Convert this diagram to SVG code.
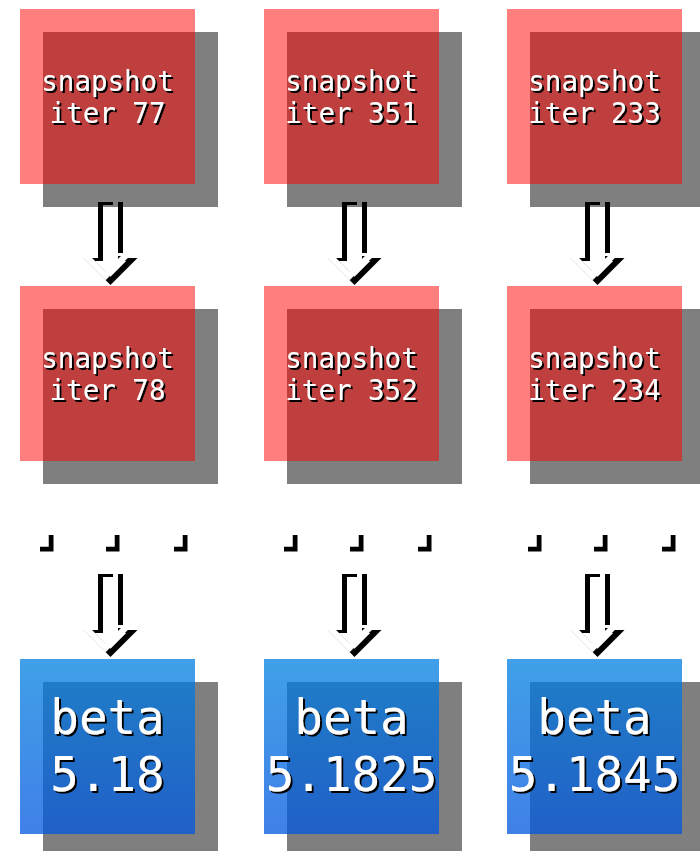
<svg xmlns="http://www.w3.org/2000/svg" width="700" height="851" viewBox="0 0 700 851">
<style>
.shadow{fill:#000;fill-opacity:0.5}
.red{fill:#ff0000;fill-opacity:0.5}
.blue{fill:url(#bg);fill-opacity:0.75}
.t{font-family:"DejaVu Sans Mono","Liberation Mono",monospace;fill:#fff;text-anchor:middle;filter:url(#ts)}
.s{font-size:27.5px}
.b{font-size:47.5px;filter:url(#tb)}
.arrow{fill:#fff;fill-rule:evenodd;filter:url(#as)}
.dot{fill:#fff;filter:url(#as)}
</style>
<defs>
<linearGradient id="bg" x1="0" y1="0" x2="0" y2="1">
<stop offset="0" stop-color="#0080e0"/>
<stop offset="1" stop-color="#0055e0"/>
</linearGradient>
<filter id="ts" x="-10%" y="-20%" width="130%" height="150%">
<feOffset in="SourceAlpha" dx="1.5" dy="1.5" result="o"/>
<feMerge><feMergeNode in="o"/><feMergeNode in="SourceGraphic"/></feMerge>
</filter>
<filter id="tb" x="-10%" y="-20%" width="130%" height="150%">
<feOffset in="SourceAlpha" dx="2" dy="2" result="o"/>
<feMerge><feMergeNode in="o"/><feMergeNode in="SourceGraphic"/></feMerge>
</filter>
<filter id="as" x="-30%" y="-30%" width="180%" height="180%">
<feOffset in="SourceAlpha" dx="5" dy="5" result="o"/>
<feMerge><feMergeNode in="o"/><feMergeNode in="SourceGraphic"/></feMerge>
</filter>
<path id="arr" d="M93,197 H118 V253 H132.5 L105.5,280 L78.5,253 H93 Z M98,200 H113 V256 H121.2 L105.5,271.7 L89.8,256 H98 Z"/>
</defs>
<g id="connectors">
<use href="#arr" class="arrow"/>
<use href="#arr" class="arrow" transform="translate(244,0)"/>
<use href="#arr" class="arrow" transform="translate(487,0)"/>
<use href="#arr" class="arrow" transform="translate(0,372)"/>
<use href="#arr" class="arrow" transform="translate(244,372)"/>
<use href="#arr" class="arrow" transform="translate(487,372)"/>
</g>
<g id="ellipsis">
<rect class="dot" x="35" y="530" width="13.5" height="16.5"/>
<rect class="dot" x="101" y="530" width="13.5" height="16.5"/>
<rect class="dot" x="169" y="530" width="13.5" height="16.5"/>
<rect class="dot" x="279" y="530" width="13.5" height="16.5"/>
<rect class="dot" x="345" y="530" width="13.5" height="16.5"/>
<rect class="dot" x="413" y="530" width="13.5" height="16.5"/>
<rect class="dot" x="523" y="530" width="13.5" height="16.5"/>
<rect class="dot" x="589" y="530" width="13.5" height="16.5"/>
<rect class="dot" x="657" y="530" width="13.5" height="16.5"/>
</g>
<g id="snap77">
<rect class="shadow" x="43" y="32" width="175" height="175"/>
<rect class="red" x="20" y="9" width="175" height="175"/>
<text class="t s" x="107.5" y="91">snapshot</text>
<text class="t s" x="107.5" y="123">iter 77</text>
</g>
<g id="snap351">
<rect class="shadow" x="287" y="32" width="175" height="175"/>
<rect class="red" x="264" y="9" width="175" height="175"/>
<text class="t s" x="351.5" y="91">snapshot</text>
<text class="t s" x="351.5" y="123">iter 351</text>
</g>
<g id="snap233">
<rect class="shadow" x="530" y="32" width="175" height="175"/>
<rect class="red" x="507" y="9" width="175" height="175"/>
<text class="t s" x="594.5" y="91">snapshot</text>
<text class="t s" x="594.5" y="123">iter 233</text>
</g>
<g id="snap78">
<rect class="shadow" x="43" y="309" width="175" height="175"/>
<rect class="red" x="20" y="286" width="175" height="175"/>
<text class="t s" x="107.5" y="368">snapshot</text>
<text class="t s" x="107.5" y="400">iter 78</text>
</g>
<g id="snap352">
<rect class="shadow" x="287" y="309" width="175" height="175"/>
<rect class="red" x="264" y="286" width="175" height="175"/>
<text class="t s" x="351.5" y="368">snapshot</text>
<text class="t s" x="351.5" y="400">iter 352</text>
</g>
<g id="snap234">
<rect class="shadow" x="530" y="309" width="175" height="175"/>
<rect class="red" x="507" y="286" width="175" height="175"/>
<text class="t s" x="594.5" y="368">snapshot</text>
<text class="t s" x="594.5" y="400">iter 234</text>
</g>
<g id="beta1">
<rect class="shadow" x="43" y="682" width="175" height="175"/>
<rect class="blue" x="20" y="659" width="175" height="175"/>
<text class="t b" x="107.5" y="734">beta</text>
<text class="t b" x="107.5" y="791">5.18</text>
</g>
<g id="beta2">
<rect class="shadow" x="287" y="682" width="175" height="175"/>
<rect class="blue" x="264" y="659" width="175" height="175"/>
<text class="t b" x="351.5" y="734">beta</text>
<text class="t b" x="351.5" y="791">5.1825</text>
</g>
<g id="beta3">
<rect class="shadow" x="530" y="682" width="175" height="175"/>
<rect class="blue" x="507" y="659" width="175" height="175"/>
<text class="t b" x="594.5" y="734">beta</text>
<text class="t b" x="594.5" y="791">5.1845</text>
</g>
</svg>
